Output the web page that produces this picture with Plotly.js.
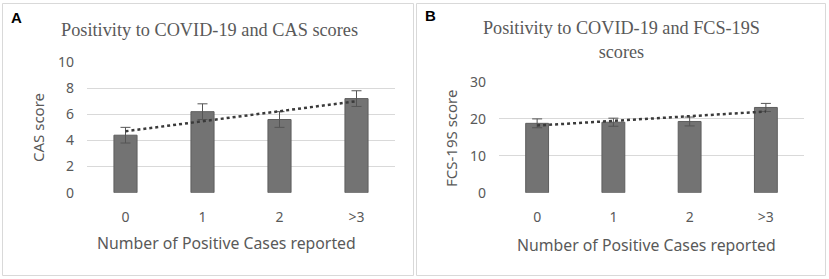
<!DOCTYPE html>
<html><head><meta charset="utf-8">
<script src="https://cdn.plot.ly/plotly-3.0.1.min.js"></script>
<style>html,body{margin:0;padding:0;background:#fff}#chart{width:829px;height:279px}</style>
</head><body><div id="chart"></div>
<script>
const categories = ['0', '1', '2', '>3'];
const casMeans = [4.4, 6.2, 5.6, 7.2];
const casErr = [0.6, 0.6, 0.6, 0.6];
const fcsMeans = [18.8, 19.1, 19.3, 23.1];
const fcsErr = [1.2, 1.1, 1.2, 1.1];
const trendCats = ['0', '>3'];
const casTrend = [4.7, 7.0];
const fcsTrend = [18.2, 22.0];
const casTicks = [0, 2, 4, 6, 8, 10];
const fcsTicks = [0, 10, 20, 30];

const W = 829, H = 279;
const px = v => v / W, py = v => 1 - v / H;
const grey = '#595959';
const sans = 'Noto Sans, DejaVu Sans, sans-serif';
const serif = 'Liberation Serif, Times New Roman, serif';

function bar(y, err, xa, ya) {
  return {type: 'bar', x: categories, y: y, xaxis: xa, yaxis: ya, width: 0.3,
    marker: {color: '#737373', line: {color: '#5e5e5e', width: 1}},
    error_y: {type: 'data', array: err, visible: true, color: '#555555', thickness: 1, width: 5},
    hoverinfo: 'skip', showlegend: false};
}
function trend(y, xa, ya) {
  return {type: 'scatter', mode: 'lines', x: trendCats, y: y, xaxis: xa, yaxis: ya,
    line: {color: '#3a3a3a', width: 2.5, dash: 'dot'}, hoverinfo: 'skip', showlegend: false};
}
const data = [
  bar(casMeans, casErr, 'x', 'y'), trend(casTrend, 'x', 'y'),
  bar(fcsMeans, fcsErr, 'x2', 'y2'), trend(fcsTrend, 'x2', 'y2')
];
const xCommon = {type: 'category', range: [-0.5, 3.5], showgrid: false, zeroline: false,
  showline: false, ticks: '', tickfont: {family: sans, size: 14, color: grey}, ticklabelstandoff: 14, fixedrange: true};
const yCommon = {showgrid: true, gridcolor: '#d9d9d9', gridwidth: 1, zeroline: false, showline: false,
  ticks: '', tickfont: {family: sans, size: 14, color: grey}, ticklabelstandoff: 12, fixedrange: true};
const layout = {
  width: W, height: H, margin: {l: 0, r: 0, t: 0, b: 0},
  paper_bgcolor: '#fff', plot_bgcolor: 'rgba(0,0,0,0)',
  bargap: 0.7,
  xaxis: Object.assign({}, xCommon, {domain: [px(87), px(395)], anchor: 'y'}),
  yaxis: Object.assign({}, yCommon, {domain: [py(192.7), py(62)], range: [0, 10], tickvals: casTicks, anchor: 'x'}),
  xaxis2: Object.assign({}, xCommon, {domain: [px(499), px(804)], anchor: 'y2'}),
  yaxis2: Object.assign({}, yCommon, {domain: [py(192.7), py(82)], range: [0, 30], tickvals: fcsTicks, anchor: 'x2'}),
  shapes: [
    {type: 'rect', xref: 'paper', yref: 'paper', x0: px(2.5), x1: px(413.5), y0: py(275.5), y1: py(3.5), line: {color: '#d9d9d9', width: 1}},
    {type: 'rect', xref: 'paper', yref: 'paper', x0: px(416.5), x1: px(825.5), y0: py(275.5), y1: py(3.5), line: {color: '#d9d9d9', width: 1}}
  ],
  annotations: [
    {text: '<b>A</b>', xref: 'paper', yref: 'paper', x: px(9), y: py(17), xanchor: 'left', yanchor: 'middle', showarrow: false, font: {family: 'Liberation Sans, Arial, sans-serif', size: 15, color: '#000'}},
    {text: '<b>B</b>', xref: 'paper', yref: 'paper', x: px(423), y: py(16), xanchor: 'left', yanchor: 'middle', showarrow: false, font: {family: 'Liberation Sans, Arial, sans-serif', size: 15, color: '#000'}},
    {text: 'Positivity to COVID-19 and CAS scores', xref: 'paper', yref: 'paper', x: px(209), y: py(30), xanchor: 'center', yanchor: 'middle', showarrow: false, font: {family: serif, size: 18.3, color: grey}},
    {text: 'Positivity to COVID-19 and FCS-19S<br>scores', xref: 'paper', yref: 'paper', x: px(621), y: py(40), xanchor: 'center', yanchor: 'middle', showarrow: false, font: {family: serif, size: 18.2, color: grey}},
    {text: 'CAS score', xref: 'paper', yref: 'paper', x: px(38), y: py(128), xanchor: 'center', yanchor: 'middle', textangle: -90, showarrow: false, font: {family: sans, size: 15, color: grey}},
    {text: 'FCS-19S score', xref: 'paper', yref: 'paper', x: px(451), y: py(138), xanchor: 'center', yanchor: 'middle', textangle: -90, showarrow: false, font: {family: sans, size: 15, color: grey}},
    {text: 'Number of Positive Cases reported', xref: 'paper', yref: 'paper', x: px(226), y: py(243), xanchor: 'center', yanchor: 'middle', showarrow: false, font: {family: sans, size: 15.8, color: grey}},
    {text: 'Number of Positive Cases reported', xref: 'paper', yref: 'paper', x: px(646), y: py(245), xanchor: 'center', yanchor: 'middle', showarrow: false, font: {family: sans, size: 15.8, color: grey}}
  ]
};
Plotly.newPlot('chart', data, layout, {staticPlot: true, displayModeBar: false});
</script></body></html>
